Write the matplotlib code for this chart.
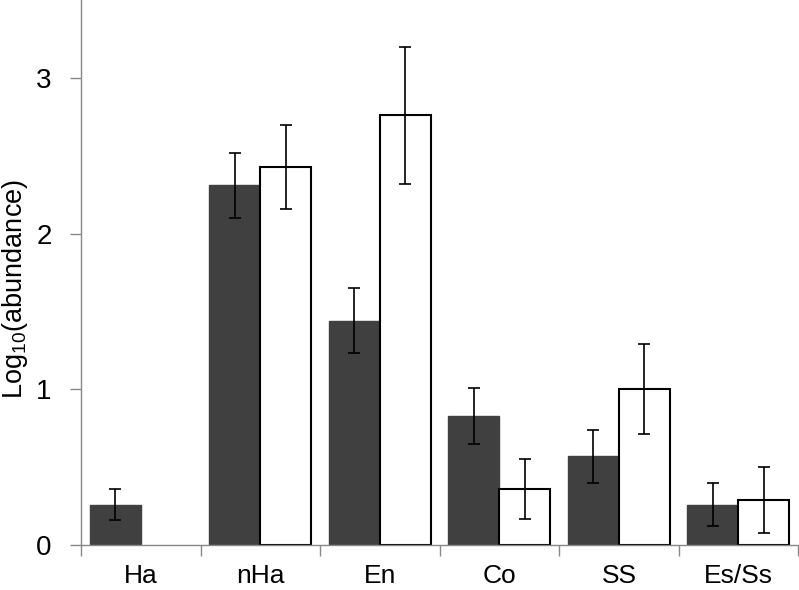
import numpy as np
import matplotlib.pyplot as plt

plt.rcParams['font.family'] = ['Liberation Sans', 'DejaVu Sans']
plt.rcParams['mathtext.fontset'] = 'custom'
plt.rcParams['mathtext.rm'] = 'Liberation Sans'
plt.rcParams['mathtext.it'] = 'Liberation Sans'

# Categories and values
categories = ["Ha", "nHa", "En", "Co", "SS", "Es/Ss"]
dark_vals = [0.26, 2.31, 1.44, 0.83, 0.57, 0.26]
dark_err = [0.10, 0.21, 0.21, 0.18, 0.17, 0.14]
white_vals = [np.nan, 2.43, 2.76, 0.36, 1.00, 0.29]
white_err = [np.nan, 0.27, 0.44, 0.19, 0.29, 0.21]

fig = plt.figure(figsize=(7.99, 5.90), dpi=100)
ax = fig.add_axes([81 / 799, 1 - 545 / 590, 1 - 81 / 799 - 0.001, 545 / 590])

x = np.arange(len(categories))
w = 0.427
errkw = dict(ecolor='black', elinewidth=1.2, capsize=4, capthick=1.2)

ax.bar(x - w / 2, dark_vals, w, color='#404040', edgecolor='#404040',
       yerr=dark_err, error_kw=errkw, zorder=2)
ax.bar(x + w / 2, white_vals, w, color='white', edgecolor='black',
       linewidth=1.5, yerr=white_err, error_kw=errkw, zorder=2)

ax.set_xlim(-0.5, len(categories) - 0.5)
ax.set_ylim(0, 3.5)
ax.set_yticks([0, 1, 2, 3])
ax.set_xticks(np.arange(-0.5, len(categories)), minor=False)
ax.set_xticklabels([])
ax.set_xticks(x, minor=True)
ax.set_xticklabels(categories, minor=True, fontsize=19)
ax.tick_params(axis='x', which='minor', length=0, pad=14)
ax.tick_params(axis='x', which='major', length=8, color='#888888', width=1)
ax.tick_params(axis='y', length=8, color='#888888', width=1, labelsize=20, pad=13)

for side in ['top', 'right']:
    ax.spines[side].set_visible(False)
for side in ['left', 'bottom']:
    ax.spines[side].set_color('#888888')
    ax.spines[side].set_linewidth(1)

ax.set_ylabel("Log$_{10}$(abundance)", fontsize=19.5)
ax.yaxis.set_label_coords(-0.071, 0.47)

fig.savefig("out.png", dpi=100)
